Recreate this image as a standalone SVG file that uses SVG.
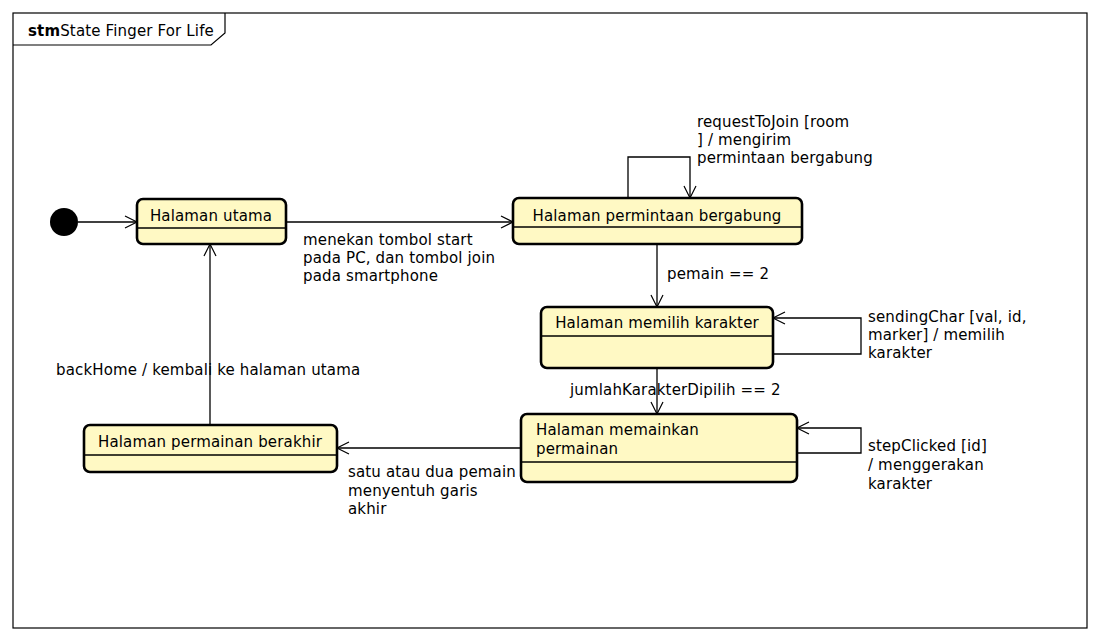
<svg xmlns="http://www.w3.org/2000/svg" width="1100" height="641" viewBox="0 0 1100 641">
<defs>
<marker id="arr" markerUnits="userSpaceOnUse" markerWidth="14" markerHeight="14" refX="12" refY="6" orient="auto" overflow="visible">
<path d="M0,0 L12,6 L0,12" fill="none" stroke="#000" stroke-width="1.2"/>
</marker>
<style>
text{font-family:"DejaVu Sans","Liberation Sans",sans-serif;font-size:15px;letter-spacing:0.15px;fill:#000}
.st{fill:#FFF9C4;stroke:#000;stroke-width:2.6}
.dv{stroke:#000;stroke-width:1.3}
.cn path,.cn line{fill:none;stroke:#000;stroke-width:1.3;marker-end:url(#arr)}
.c{text-anchor:middle}
</style>
</defs>
<rect x="0" y="0" width="1100" height="641" fill="#fff"/>
<g id="frame">
<rect x="13" y="13" width="1074" height="615" fill="none" stroke="#000" stroke-width="1.2"/>
<path d="M13,45 H211 L225,33 V13" fill="none" stroke="#000" stroke-width="1.2"/>
<text x="28" y="36"><tspan font-weight="bold">stm</tspan>State Finger For Life</text>
</g>
<g class="cn" id="connectors">
<line x1="78" y1="222" x2="137" y2="222"/>
<line x1="286" y1="222" x2="513" y2="222"/>
<path d="M628,198 V157 H690 V198"/>
<line x1="657" y1="244" x2="657" y2="307"/>
<path d="M773,354 H861 V318 H773"/>
<line x1="657" y1="368" x2="657" y2="414"/>
<path d="M797,453 H861 V428 H797"/>
<line x1="521" y1="448" x2="337" y2="448"/>
<line x1="210" y1="425" x2="210" y2="244"/>
</g>
<g id="labels">
<text x="303" y="245">menekan tombol start</text>
<text x="303" y="263">pada PC, dan tombol join</text>
<text x="303" y="281">pada smartphone</text>
<text x="697" y="127">requestToJoin [room</text>
<text x="697" y="145">] / mengirim</text>
<text x="697" y="163">permintaan bergabung</text>
<text x="667" y="279">pemain == 2</text>
<text x="868" y="322">sendingChar [val, id,</text>
<text x="868" y="340">marker] / memilih</text>
<text x="868" y="358">karakter</text>
<text x="570" y="395">jumlahKarakterDipilih == 2</text>
<text x="868" y="451">stepClicked [id]</text>
<text x="868" y="470">/ menggerakan</text>
<text x="868" y="489">karakter</text>
<text x="348" y="477">satu atau dua pemain</text>
<text x="348" y="496">menyentuh garis</text>
<text x="348" y="514">akhir</text>
<text x="56" y="375">backHome / kembali ke halaman utama</text>
</g>
<g id="initial">
<circle cx="64" cy="222" r="14" fill="#000"/>
</g>
<g id="halaman-utama">
<rect class="st" x="137" y="199" width="149" height="45" rx="6"/>
<line class="dv" x1="137" y1="228" x2="286" y2="228"/>
<text class="c" x="211" y="221">Halaman utama</text>
</g>
<g id="halaman-permintaan">
<rect class="st" x="513" y="198" width="289" height="46" rx="6"/>
<line class="dv" x1="513" y1="227" x2="802" y2="227"/>
<text class="c" x="657" y="221">Halaman permintaan bergabung</text>
</g>
<g id="halaman-memilih">
<rect class="st" x="541" y="307" width="232" height="61" rx="6"/>
<line class="dv" x1="541" y1="336" x2="773" y2="336"/>
<text class="c" x="657" y="328">Halaman memilih karakter</text>
</g>
<g id="halaman-memainkan">
<rect class="st" x="521" y="414" width="276" height="68" rx="6"/>
<line class="dv" x1="521" y1="462" x2="797" y2="462"/>
<text x="536" y="435">Halaman memainkan</text>
<text x="536" y="454">permainan</text>
</g>
<g id="halaman-berakhir">
<rect class="st" x="84" y="425" width="253" height="47" rx="6"/>
<line class="dv" x1="84" y1="455" x2="337" y2="455"/>
<text class="c" x="210" y="447">Halaman permainan berakhir</text>
</g>
</svg>
